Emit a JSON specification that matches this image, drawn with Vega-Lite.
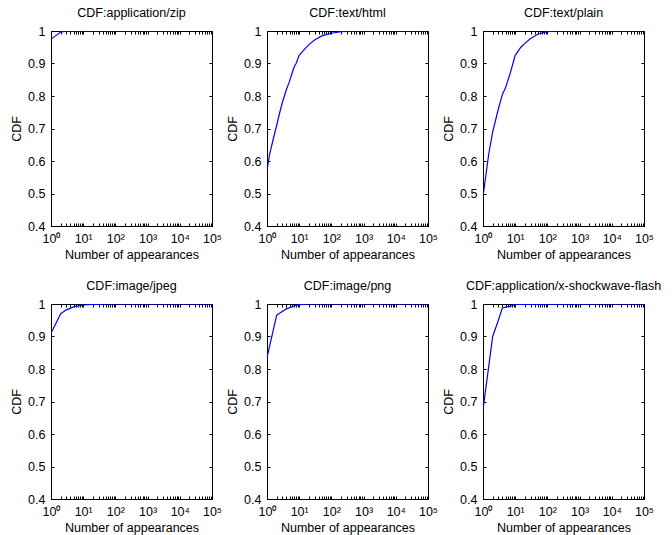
{
  "$schema": "https://vega.github.io/schema/vega-lite/v6.json",
  "padding": {"left": 10, "top": 6, "right": 5, "bottom": 2},
  "background": "white",
  "data": {"values": [
    {"t": "application/zip", "x": 1, "y": 0.975},
    {"t": "application/zip", "x": 2, "y": 0.997},
    {"t": "application/zip", "x": 3, "y": 0.999},
    {"t": "application/zip", "x": 10, "y": 1},
    {"t": "application/zip", "x": 7000, "y": 1},
    {"t": "text/html", "x": 1, "y": 0.57},
    {"t": "text/html", "x": 1.2, "y": 0.62},
    {"t": "text/html", "x": 1.5, "y": 0.66},
    {"t": "text/html", "x": 2, "y": 0.71},
    {"t": "text/html", "x": 2.5, "y": 0.75},
    {"t": "text/html", "x": 3, "y": 0.78},
    {"t": "text/html", "x": 4, "y": 0.82},
    {"t": "text/html", "x": 5, "y": 0.845},
    {"t": "text/html", "x": 6, "y": 0.87},
    {"t": "text/html", "x": 7, "y": 0.89},
    {"t": "text/html", "x": 8, "y": 0.9},
    {"t": "text/html", "x": 10, "y": 0.925},
    {"t": "text/html", "x": 15, "y": 0.945},
    {"t": "text/html", "x": 20, "y": 0.958},
    {"t": "text/html", "x": 30, "y": 0.972},
    {"t": "text/html", "x": 50, "y": 0.985},
    {"t": "text/html", "x": 100, "y": 0.993},
    {"t": "text/html", "x": 200, "y": 0.998},
    {"t": "text/html", "x": 500, "y": 0.9995},
    {"t": "text/html", "x": 1000, "y": 1},
    {"t": "text/html", "x": 100000, "y": 1},
    {"t": "text/plain", "x": 1, "y": 0.49},
    {"t": "text/plain", "x": 1.5, "y": 0.62},
    {"t": "text/plain", "x": 2, "y": 0.69},
    {"t": "text/plain", "x": 3, "y": 0.76},
    {"t": "text/plain", "x": 4, "y": 0.805},
    {"t": "text/plain", "x": 5, "y": 0.825},
    {"t": "text/plain", "x": 7, "y": 0.87},
    {"t": "text/plain", "x": 10, "y": 0.925},
    {"t": "text/plain", "x": 15, "y": 0.95},
    {"t": "text/plain", "x": 20, "y": 0.962},
    {"t": "text/plain", "x": 30, "y": 0.977},
    {"t": "text/plain", "x": 50, "y": 0.99},
    {"t": "text/plain", "x": 100, "y": 0.998},
    {"t": "text/plain", "x": 200, "y": 1},
    {"t": "text/plain", "x": 100000, "y": 1},
    {"t": "image/jpeg", "x": 1, "y": 0.91},
    {"t": "image/jpeg", "x": 2, "y": 0.97},
    {"t": "image/jpeg", "x": 3, "y": 0.982},
    {"t": "image/jpeg", "x": 5, "y": 0.991},
    {"t": "image/jpeg", "x": 10, "y": 0.997},
    {"t": "image/jpeg", "x": 20, "y": 0.999},
    {"t": "image/jpeg", "x": 50, "y": 1},
    {"t": "image/jpeg", "x": 100000, "y": 1},
    {"t": "image/png", "x": 1, "y": 0.835},
    {"t": "image/png", "x": 2, "y": 0.966},
    {"t": "image/png", "x": 4, "y": 0.985},
    {"t": "image/png", "x": 8, "y": 0.996},
    {"t": "image/png", "x": 10, "y": 0.998},
    {"t": "image/png", "x": 20, "y": 1},
    {"t": "image/png", "x": 100000, "y": 1},
    {"t": "application/x-shockwave-flash", "x": 1, "y": 0.675},
    {"t": "application/x-shockwave-flash", "x": 2, "y": 0.9},
    {"t": "application/x-shockwave-flash", "x": 3, "y": 0.95},
    {"t": "application/x-shockwave-flash", "x": 4, "y": 0.988},
    {"t": "application/x-shockwave-flash", "x": 6, "y": 0.992},
    {"t": "application/x-shockwave-flash", "x": 8, "y": 0.995},
    {"t": "application/x-shockwave-flash", "x": 10, "y": 0.999},
    {"t": "application/x-shockwave-flash", "x": 10000, "y": 1},
    {"t": "application/x-shockwave-flash", "x": 100000, "y": 1}
  ]},
  "facet": {
    "field": "t", "type": "nominal",
    "sort": ["application/zip", "text/html", "text/plain", "image/jpeg", "image/png", "application/x-shockwave-flash"],
    "header": {"title": null, "labelExpr": "'CDF:' + datum.value", "labelFont": "Liberation Sans", "labelFontSize": 12.5, "labelColor": "black", "labelPadding": 6}
  },
  "columns": 3,
  "spacing": {"column": 55, "row": 78},
  "bounds": "flush",
  "resolve": {"axis": {"x": "independent", "y": "independent"}},
  "spec": {
    "width": 161,
    "height": 195,
    "layer": [
      {
        "mark": {"type": "line", "color": "#0000ff", "strokeWidth": 1.2, "clip": true},
        "encoding": {
          "x": {"field": "x", "type": "quantitative",
                "scale": {"type": "log", "domain": [1, 100000], "nice": false},
                "axis": {"title": "Number of appearances", "orient": "bottom",
                         "values": [1,2,3,4,5,6,7,8,9,10,20,30,40,50,60,70,80,90,100,200,300,400,500,600,700,800,900,1000,2000,3000,4000,5000,6000,7000,8000,9000,10000,20000,30000,40000,50000,60000,70000,80000,90000,100000],
                         "labelExpr": "indexof([1,10,100,1000,10000,100000], datum.value) >= 0 ? '10' + ['⁰','¹','²','³','⁴','⁵'][indexof([1,10,100,1000,10000,100000], datum.value)] : ''"}},
          "y": {"field": "y", "type": "quantitative",
                "scale": {"domain": [0.4, 1], "nice": false, "zero": false},
                "axis": {"title": "CDF", "orient": "left", "values": [0.4,0.5,0.6,0.7,0.8,0.9,1], "format": "~g"}}
        }
      },
      {
        "mark": {"type": "line", "opacity": 0, "clip": true},
        "encoding": {
          "x": {"field": "x", "type": "quantitative",
                "scale": {"type": "log", "domain": [1, 100000], "nice": false},
                "axis": {"title": null, "orient": "top", "labels": false,
                         "values": [1,2,3,4,5,6,7,8,9,10,20,30,40,50,60,70,80,90,100,200,300,400,500,600,700,800,900,1000,2000,3000,4000,5000,6000,7000,8000,9000,10000,20000,30000,40000,50000,60000,70000,80000,90000,100000]}},
          "y": {"field": "y", "type": "quantitative",
                "scale": {"domain": [0.4, 1], "nice": false, "zero": false},
                "axis": {"title": null, "orient": "right", "labels": false, "values": [0.4,0.5,0.6,0.7,0.8,0.9,1]}}
        }
      }
    ],
    "resolve": {"axis": {"x": "independent", "y": "independent"}}
  },
  "config": {
    "font": "Liberation Sans",
    "view": {"stroke": "black", "strokeWidth": 1},
    "axis": {
      "grid": false,
      "domainColor": "black",
      "domainWidth": 1,
      "tickColor": "black",
      "tickSize": -3,
      "labelPadding": 9,
      "labelColor": "black",
      "labelFont": "Liberation Sans",
      "labelFontSize": 12.5,
      "labelOverlap": false,
      "labelFlush": false,
      "titleColor": "black",
      "titleFont": "Liberation Sans",
      "titleFontSize": 12.5,
      "titleFontWeight": "normal",
      "titlePadding": 4
    }
  }
}
